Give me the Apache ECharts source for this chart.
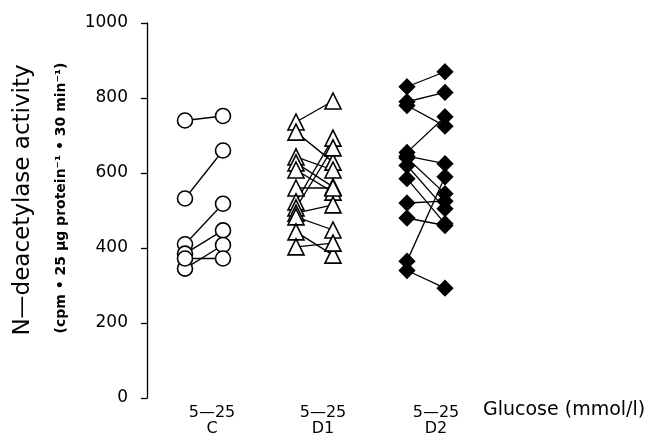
<!DOCTYPE html>
<html>
<head>
<meta charset="utf-8">
<script src="https://cdn.jsdelivr.net/npm/echarts@6/dist/echarts.min.js"></script>
<style>
  html, body { margin: 0; padding: 0; background: #fff; }
  #chart { width: 667px; height: 442px; }
</style>
</head>
<body>
<div id="chart"></div>
<script>
// groups and where the 5 / 25 mmol/l columns sit on the (hidden) x scale
const groups = ['C', 'D1', 'D2'];
const xAt5 = [38, 149, 260];
const xAt25 = [76, 186, 298];
const labelX = [65, 176, 289];

// paired values, 5 mmol/l -> 25 mmol/l
const c5 = [740, 532, 410, 385, 345, 372];
const c25 = [752, 660, 518, 447, 408, 372];

const d1At5 = [736, 709, 643, 627, 608, 560, 523, 507, 493, 483, 443, 403];
const d1At25 = [792, 629, 608, 563, 549, 560, 693, 667, 515, 448, 381, 413];

const d2At5 = [830, 790, 780, 655, 645, 640, 620, 585, 520, 480, 365, 340];
const d2At25 = [870, 815, 725, 750, 625, 545, 505, 465, 525, 460, 590, 293];

const yTicks = [0, 200, 400, 600, 800, 1000];

const FONT = 'DejaVu Sans';

const markers = [
  { symbol: 'circle', size: 15, fill: '#fff' },
  { symbol: 'triangle', size: 16, fill: '#fff' },
  { symbol: 'diamond', size: 15, fill: '#000' }
];

const pairs = [[c5, c25], [d1At5, d1At25], [d2At5, d2At25]];

const series = [];
pairs.forEach(([a, b], g) => {
  a.forEach((v, i) => {
    series.push({
      type: 'line',
      data: [[xAt5[g], v], [xAt25[g], b[i]]],
      symbol: markers[g].symbol,
      symbolSize: markers[g].size,
      lineStyle: { color: '#000', width: 1.3 },
      itemStyle: { color: markers[g].fill, borderColor: '#000', borderWidth: 1.6 },
      emphasis: { disabled: true },
      z: 2
    });
  });
});

const chart = echarts.init(document.getElementById('chart'));
chart.setOption({
  animation: false,
  grid: { left: 147, right: 20, top: 23, bottom: 44 },
  xAxis: {
    type: 'value',
    min: 0,
    max: 500,
    splitLine: { show: false },
    axisLine: { show: false },
    axisTick: { show: false },
    axisLabel: {
      customValues: labelX,
      formatter: v => '5—25\n' + groups[labelX.indexOf(v)],
      fontFamily: FONT,
      fontSize: 16,
      lineHeight: 16,
      color: '#000',
      margin: 7
    }
  },
  yAxis: {
    type: 'value',
    min: 0,
    max: 1000,
    interval: 200,
    splitLine: { show: false },
    axisLine: { show: true, lineStyle: { color: '#000', width: 1.3 } },
    axisTick: { show: true, length: 6, lineStyle: { color: '#000', width: 1.3 } },
    axisLabel: {
      formatter: v => (yTicks.includes(v) ? String(v) : ''),
      fontFamily: FONT,
      fontSize: 17,
      color: '#000',
      margin: 19
    }
  },
  graphic: [
    {
      type: 'text',
      x: 23, y: 200,
      rotation: Math.PI / 2,
      style: {
        text: 'N—deacetylase activity',
        fontFamily: FONT,
        fontSize: 23,
        fill: '#000',
        align: 'center',
        verticalAlign: 'middle'
      }
    },
    {
      type: 'text',
      x: 61, y: 198,
      rotation: Math.PI / 2,
      style: {
        text: '(cpm • 25 µg protein⁻¹ • 30 min⁻¹)',
        fontFamily: FONT,
        fontSize: 14,
        fontWeight: 'bold',
        fill: '#000',
        align: 'center',
        verticalAlign: 'middle'
      }
    },
    {
      type: 'text',
      left: 483, top: 401,
      style: {
        text: 'Glucose (mmol/l)',
        fontFamily: FONT,
        fontSize: 19,
        fill: '#000'
      }
    }
  ],
  series: series
});

window.addEventListener('resize', () => {
  chart.resize();
});
</script>
</body>
</html>
